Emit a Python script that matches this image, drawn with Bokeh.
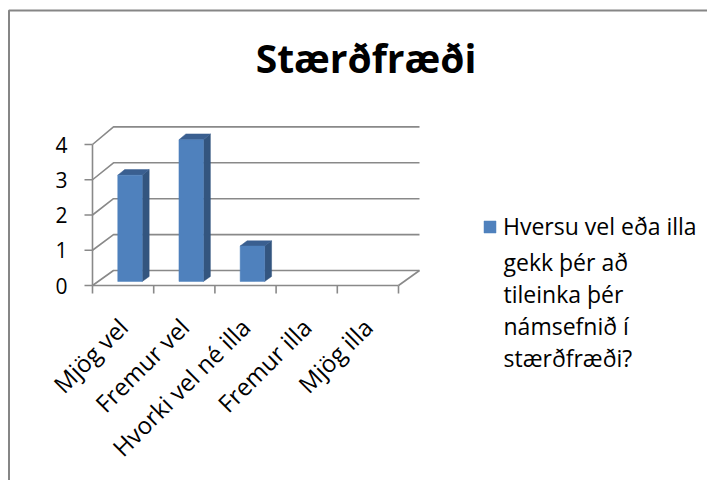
import math
from bokeh.plotting import figure
from bokeh.models import Range1d, Legend, LegendItem
from bokeh.core.properties import value
from bokeh.embed import file_html
from bokeh.resources import INLINE

# ---- data ----
title = "Stærðfræði"
categories = ["Mjög vel", "Fremur vel", "Hvorki vel né illa", "Fremur illa", "Mjög illa"]
counts = [3, 4, 1, 0, 0]
y_ticks = [0, 1, 2, 3, 4]
series_lines = ["Hversu vel eða illa", "gekk þér að", "tileinka þér",
                "námsefnið í", "stærðfræði?"]

# ---- layout constants (canvas pixels) ----
W, H = 707, 480
ORIGIN_X, ORIGIN_Y = 92.0, 285.0      # canvas px of front (category 0, value 0)
PX_CAT, PX_VAL = 61.2, 35.25          # px per category / per value unit
DEPTH_X = 21.0 / PX_CAT               # back wall shift in category units
DEPTH_Y = 15.0 / PX_VAL               # back wall shift in value units
DEPTH_SCALE = 0.0184                  # perspective growth of back wall
BAR_X0, BAR_X1 = 0.32, 0.72           # bar position inside a category
BAR_Z0, BAR_Z1 = 0.27, 0.60           # bar depth
GRID = "#898989"
FONT = "Open Sans"
LEG_X, LEG_Y0, LEG_STEP = 503, 229, 32
LAB_DX, LAB_DY = 0, 37


def dx(px):
    return (px - ORIGIN_X) / PX_CAT


def dy(py):
    return (ORIGIN_Y - py) / PX_VAL


def proj(c, v, z):
    return c + z * DEPTH_X, v * (1 + z * DEPTH_SCALE) + z * DEPTH_Y


n = len(categories)
vmax = max(y_ticks)

p = figure(width=W, height=H, output_backend="svg", toolbar_location=None,
           x_range=Range1d(dx(0), dx(W)), y_range=Range1d(dy(H), dy(0)),
           min_border=0)
p.axis.visible = False
p.grid.visible = False
p.outline_line_color = None
p.background_fill_color = "white"
p.border_fill_color = "white"

# chart border (left and top edges visible in the crop)
bx, by = dx(8.5), dy(10)
p.line([bx, bx, dx(W + 50)], [dy(H + 50), by, by], line_color="#868686", line_width=2)

# ---- walls / gridlines ----
gx, gy = [], []
for t in y_ticks:
    a = proj(0, t, 0); b = proj(0, t, 1); c2 = proj(n, t, 1)
    gx.append([a[0], b[0], c2[0]]); gy.append([a[1], b[1], c2[1]])
a = proj(n, 0, 0); b = proj(n, 0, 1)
gx.append([a[0], b[0]]); gy.append([a[1], b[1]])
gx.append([0, n]); gy.append([0, 0])
gx.append([0, 0]); gy.append([0, vmax])
p.multi_line(gx, gy, line_color=GRID, line_width=1.6)

# ticks
tick_v = 8.0 / PX_CAT
tick_c = 8.0 / PX_VAL
p.segment(x0=[-tick_v] * len(y_ticks), y0=y_ticks, x1=[0] * len(y_ticks), y1=y_ticks,
          line_color=GRID, line_width=1.6)
p.segment(x0=list(range(n + 1)), y0=[0] * (n + 1), x1=list(range(n + 1)),
          y1=[-tick_c] * (n + 1), line_color=GRID, line_width=1.6)

# ---- 3D bars ----
fx, fy, sx, sy, tx, ty = [], [], [], [], [], []
for i, v in enumerate(counts):
    if v <= 0:
        continue
    x0, x1 = i + BAR_X0, i + BAR_X1
    pts = [proj(x0, 0, BAR_Z0), proj(x1, 0, BAR_Z0), proj(x1, v, BAR_Z0), proj(x0, v, BAR_Z0)]
    fx.append([q[0] for q in pts]); fy.append([q[1] for q in pts])
    pts = [proj(x1, 0, BAR_Z0), proj(x1, 0, BAR_Z1), proj(x1, v, BAR_Z1), proj(x1, v, BAR_Z0)]
    sx.append([q[0] for q in pts]); sy.append([q[1] for q in pts])
    pts = [proj(x0, v, BAR_Z0), proj(x1, v, BAR_Z0), proj(x1, v, BAR_Z1), proj(x0, v, BAR_Z1)]
    tx.append([q[0] for q in pts]); ty.append([q[1] for q in pts])

p.patches(sx, sy, fill_color="#33557F", line_color="#33557F", line_width=0.5)
p.patches(tx, ty, fill_color="#3A5F90", line_color="#3A5F90", line_width=0.5)
front = p.patches(fx, fy, fill_color="#4F81BD", line_color="#4F81BD", line_width=0.5)

# ---- axis labels ----
p.text(x=[0] * len(y_ticks), y=y_ticks, text=[str(t) for t in y_ticks],
       x_offset=-25, text_align="right", text_baseline="middle",
       text_font=value(FONT), text_font_size="21px", text_color="black")
p.text(x=[i + 0.5 for i in range(n)], y=[0] * n, text=categories,
       angle=math.pi / 4, x_offset=LAB_DX, y_offset=LAB_DY, text_align="right",
       text_baseline="middle", text_font=value(FONT), text_font_size="24px",
       text_color="black")

# ---- title ----
p.text(x=[dx(365.5)], y=[dy(57)], text=[title], text_align="center",
       text_baseline="middle", text_font=value(FONT), text_font_size="39px",
       text_font_style="bold", text_color="black")

# ---- legend: swatch + first line as a real legend, remaining lines as text ----
leg_h = 26
legend = Legend(items=[LegendItem(label=series_lines[0], renderers=[front])],
                location=(482, H - (LEG_Y0 + leg_h / 2)), border_line_alpha=0,
                background_fill_alpha=0, padding=0, margin=0, spacing=0,
                glyph_width=15, glyph_height=15, label_height=leg_h,
                label_standoff=6, label_text_font=FONT, label_text_font_size="23px",
                label_text_color="black", label_text_baseline="middle")
p.add_layout(legend)
rest = series_lines[1:]
p.text(x=[dx(LEG_X)] * len(rest), y=[dy(LEG_Y0 + LEG_STEP * (k + 1)) for k in range(len(rest))],
       text=rest, text_align="left", text_baseline="middle",
       text_font=value(FONT), text_font_size="23px", text_color="black")

open("out.html", "w").write(file_html(p, INLINE))
